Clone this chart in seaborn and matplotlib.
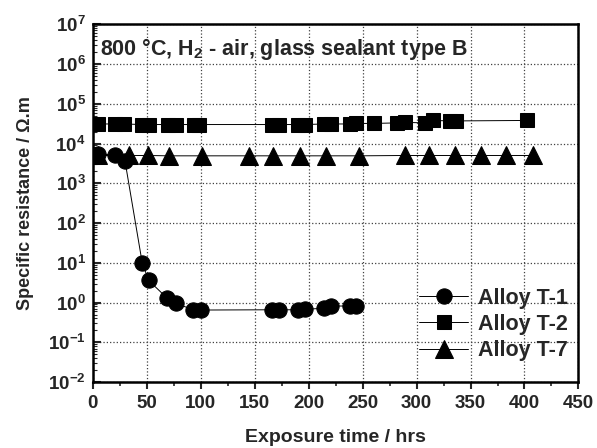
import numpy as np
import pandas as pd
import matplotlib
matplotlib.use("Agg")
import matplotlib.pyplot as plt
import seaborn as sns
from matplotlib.ticker import LogLocator, MultipleLocator, FuncFormatter, NullFormatter

# ---- data ----
t1_hrs = [5, 21, 30, 46, 52, 69, 77, 93, 100, 166, 173, 190, 197, 214, 221, 238, 244]
t1_val = [5.6e3, 5.0e3, 3.7e3, 10, 3.6, 1.3, 0.95, 0.67, 0.65, 0.66, 0.66, 0.66, 0.68, 0.72, 0.82, 0.82, 0.82]

t2_hrs = [5, 21, 29, 46, 52, 70, 77, 94, 99, 166, 173, 190, 197, 214, 221, 238, 244,
          261, 282, 289, 308, 315, 331, 337, 402]
t2_val = [3.1e4, 3.1e4, 3.1e4, 3.0e4, 3.0e4, 3.0e4, 3.0e4, 3.0e4, 3.0e4, 3.0e4, 3.0e4, 3.0e4,
          3.0e4, 3.1e4, 3.1e4, 3.1e4, 3.2e4, 3.2e4, 3.3e4, 3.4e4, 3.3e4, 3.8e4, 3.7e4, 3.7e4, 3.8e4]

t7_hrs = [5, 34, 51, 71, 101, 145, 167, 192, 216, 247, 289, 312, 336, 360, 383, 408]
t7_val = [5.0e3, 5.0e3, 5.0e3, 4.9e3, 4.9e3, 4.9e3, 4.9e3, 4.9e3, 4.9e3, 4.9e3, 5.0e3,
          5.0e3, 5.0e3, 5.0e3, 5.0e3, 5.0e3]

labels = ["Alloy T-1", "Alloy T-2", "Alloy T-7"]
x_ticks = [0, 50, 100, 150, 200, 250, 300, 350, 400, 450]

sns.set_style("ticks")
plt.rcParams['font.family'] = ['Liberation Sans', 'DejaVu Sans']
plt.rcParams['mathtext.fontset'] = 'custom'
plt.rcParams['mathtext.rm'] = 'Liberation Sans'
plt.rcParams['mathtext.bf'] = 'Liberation Sans:bold'
plt.rcParams['mathtext.it'] = 'Liberation Sans:italic'
plt.rcParams['mathtext.default'] = 'bf'

fig = plt.figure(figsize=(5.97, 4.48), dpi=100)
ax = fig.add_axes([0.155, 0.147, 0.814, 0.799])

series = [(t1_hrs, t1_val, 'o', 11), (t2_hrs, t2_val, 's', 10.5), (t7_hrs, t7_val, '^', 13)]
for (h, v, m, ms), lab in zip(series, labels):
    df = pd.DataFrame({"hrs": h, "val": v})
    sns.lineplot(data=df, x="hrs", y="val", marker=m, markersize=ms, color='black',
                 markeredgecolor='black', markerfacecolor='black', linewidth=0.7,
                 label=lab, ax=ax, sort=False)

ax.set_yscale('log')
ax.set_ylim(1e-2, 1e7)
ax.set_xlim(0, 450)
ax.set_xticks(x_ticks)
ax.xaxis.set_minor_locator(MultipleLocator(25))
ax.yaxis.set_major_locator(LogLocator(base=10, numticks=20))
ax.yaxis.set_minor_locator(LogLocator(base=10, subs=np.arange(2, 10), numticks=20))
ax.yaxis.set_minor_formatter(NullFormatter())
ax.yaxis.set_major_formatter(FuncFormatter(lambda v, p: r'$10^{%d}$' % int(round(np.log10(v)))))

ax.grid(True, which='major', color='0.25', linestyle=':', linewidth=0.9)
for s in ax.spines.values():
    s.set_linewidth(1.8)
    s.set_color('black')

ax.tick_params(axis='x', which='major', direction='out', length=5, width=1.5, labelsize=13.5, pad=4)
ax.tick_params(axis='x', which='minor', direction='out', length=3, width=1.2)
ax.tick_params(axis='y', which='major', direction='in', length=6, width=1.5, labelsize=13.5, pad=5)
ax.tick_params(axis='y', which='minor', direction='in', length=3, width=0.8)
for lbl in ax.get_xticklabels():
    lbl.set_fontweight('bold')

ax.set_xlabel("Exposure time / hrs", fontsize=14, fontweight='bold', labelpad=12.5)
ax.set_ylabel("Specific resistance / Ω.m", fontsize=13, fontweight='bold', labelpad=10)

ax.text(0.016, 0.968, r"800 °C, H$_{\mathregular{2}}$ - air, glass sealant type B",
        transform=ax.transAxes, ha='left', va='top', fontsize=15.5, fontweight='bold')

leg = ax.legend(loc='lower right', bbox_to_anchor=(1.005, 0.022), frameon=False,
                prop={'weight': 'bold', 'size': 15.5}, handlelength=2.3,
                handletextpad=0.45, labelspacing=0.25, borderaxespad=0.2)

fig.savefig("out.png", dpi=100)
